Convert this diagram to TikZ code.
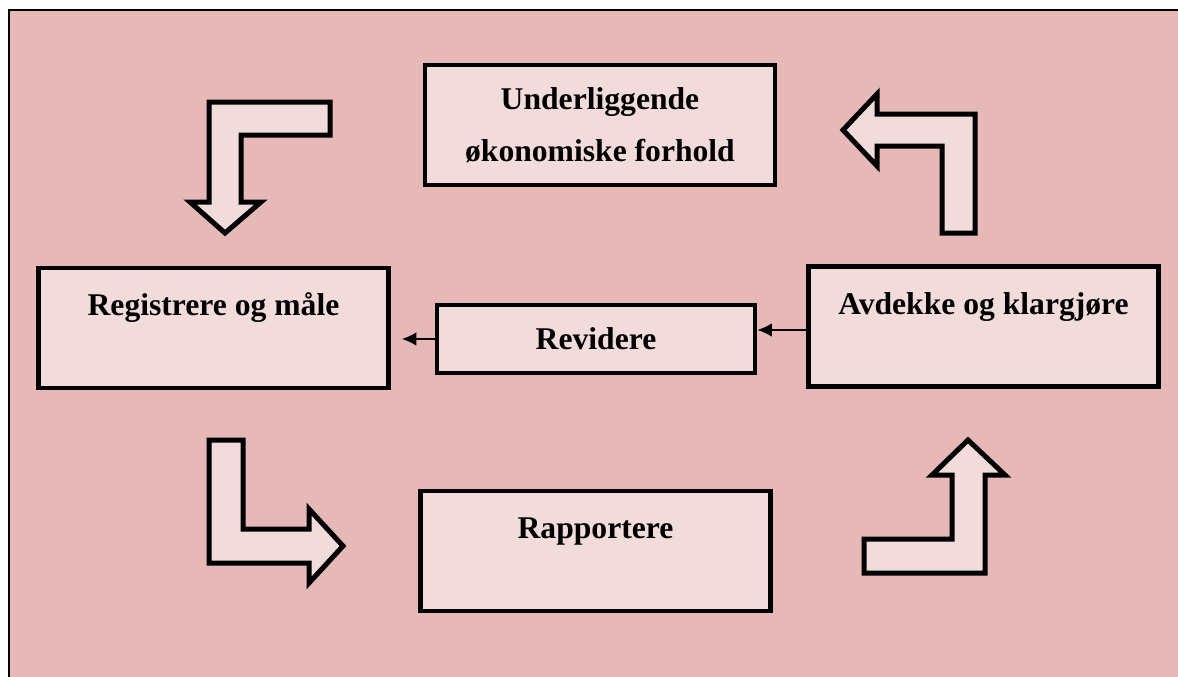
\documentclass[tikz,border=0pt]{standalone}
\usepackage{fontspec}
\setmainfont{Liberation Serif}
\usetikzlibrary{arrows.meta}
\definecolor{bgpink}{RGB}{230,184,183}
\definecolor{boxpink}{RGB}{242,220,219}

\begin{document}
\begin{tikzpicture}[x=0.02cm,y=-0.02cm]
  \tikzstyle{box}=[draw, line width=0.095cm, fill=boxpink, minimum width=7cm, minimum height=2.4cm, inner sep=0pt, align=center, font=\fontsize{18}{29.5}\selectfont\bfseries]
  \tikzstyle{uptext}=[text height=12.5pt, text depth=26.5pt]
  \tikzstyle{bent}=[draw, line width=0.1cm, fill=boxpink, miter limit=10]
  \tikzstyle{conn}=[line width=0.9pt, -{Latex[length=0.29cm,width=0.27cm]}]
  \useasboundingbox (0,0) rectangle (1178,677);
  \clip (0,0) rectangle (1178,677);
  % background frame
  \draw[fill=bgpink, line width=0.8pt] (9,10) rectangle (1200,700);

  % boxes
  \node[box] (und) at (600,125) {Underliggende\\økonomiske forhold};
  \node[box, uptext] (reg) at (213.5,328) {Registrere og måle};
  \node[box, minimum width=6.36cm, minimum height=1.36cm] (rev) at (596,339) {Revidere};
  \node[box, uptext] (avd) at (983.5,326.5) {Avdekke og klargjøre};
  \node[box, uptext] (rap) at (595.5,551) {Rapportere};

  % thin arrows
  \coordinate (avdin) at ([yshift=-0.07cm]avd.west);
  \draw[conn] (avdin) -- (avdin -| rev.east);
  \draw[conn, shorten >=0.22cm] (rev.west) -- (rev.west -| reg.east);

  % bent block arrows
  \draw[bent] (330,102) -- (209,102) -- (209,202) -- (190,202) -- (225,233)
    -- (261,202) -- (241,202) -- (241,135) -- (330,135) -- cycle;
  \draw[bent] (975,233) -- (975,114) -- (877,114) -- (877,94) -- (843,130)
    -- (877,166) -- (877,146) -- (942,146) -- (942,233) -- cycle;
  \draw[bent] (209,440) -- (209,563) -- (309,563) -- (309,583) -- (343,546)
    -- (309,509) -- (309,529) -- (243,529) -- (243,440) -- cycle;
  \draw[bent] (864,573) -- (985,573) -- (985,475) -- (1005,475) -- (968,440)
    -- (932,475) -- (952,475) -- (952,539) -- (864,539) -- cycle;
\end{tikzpicture}
\end{document}
